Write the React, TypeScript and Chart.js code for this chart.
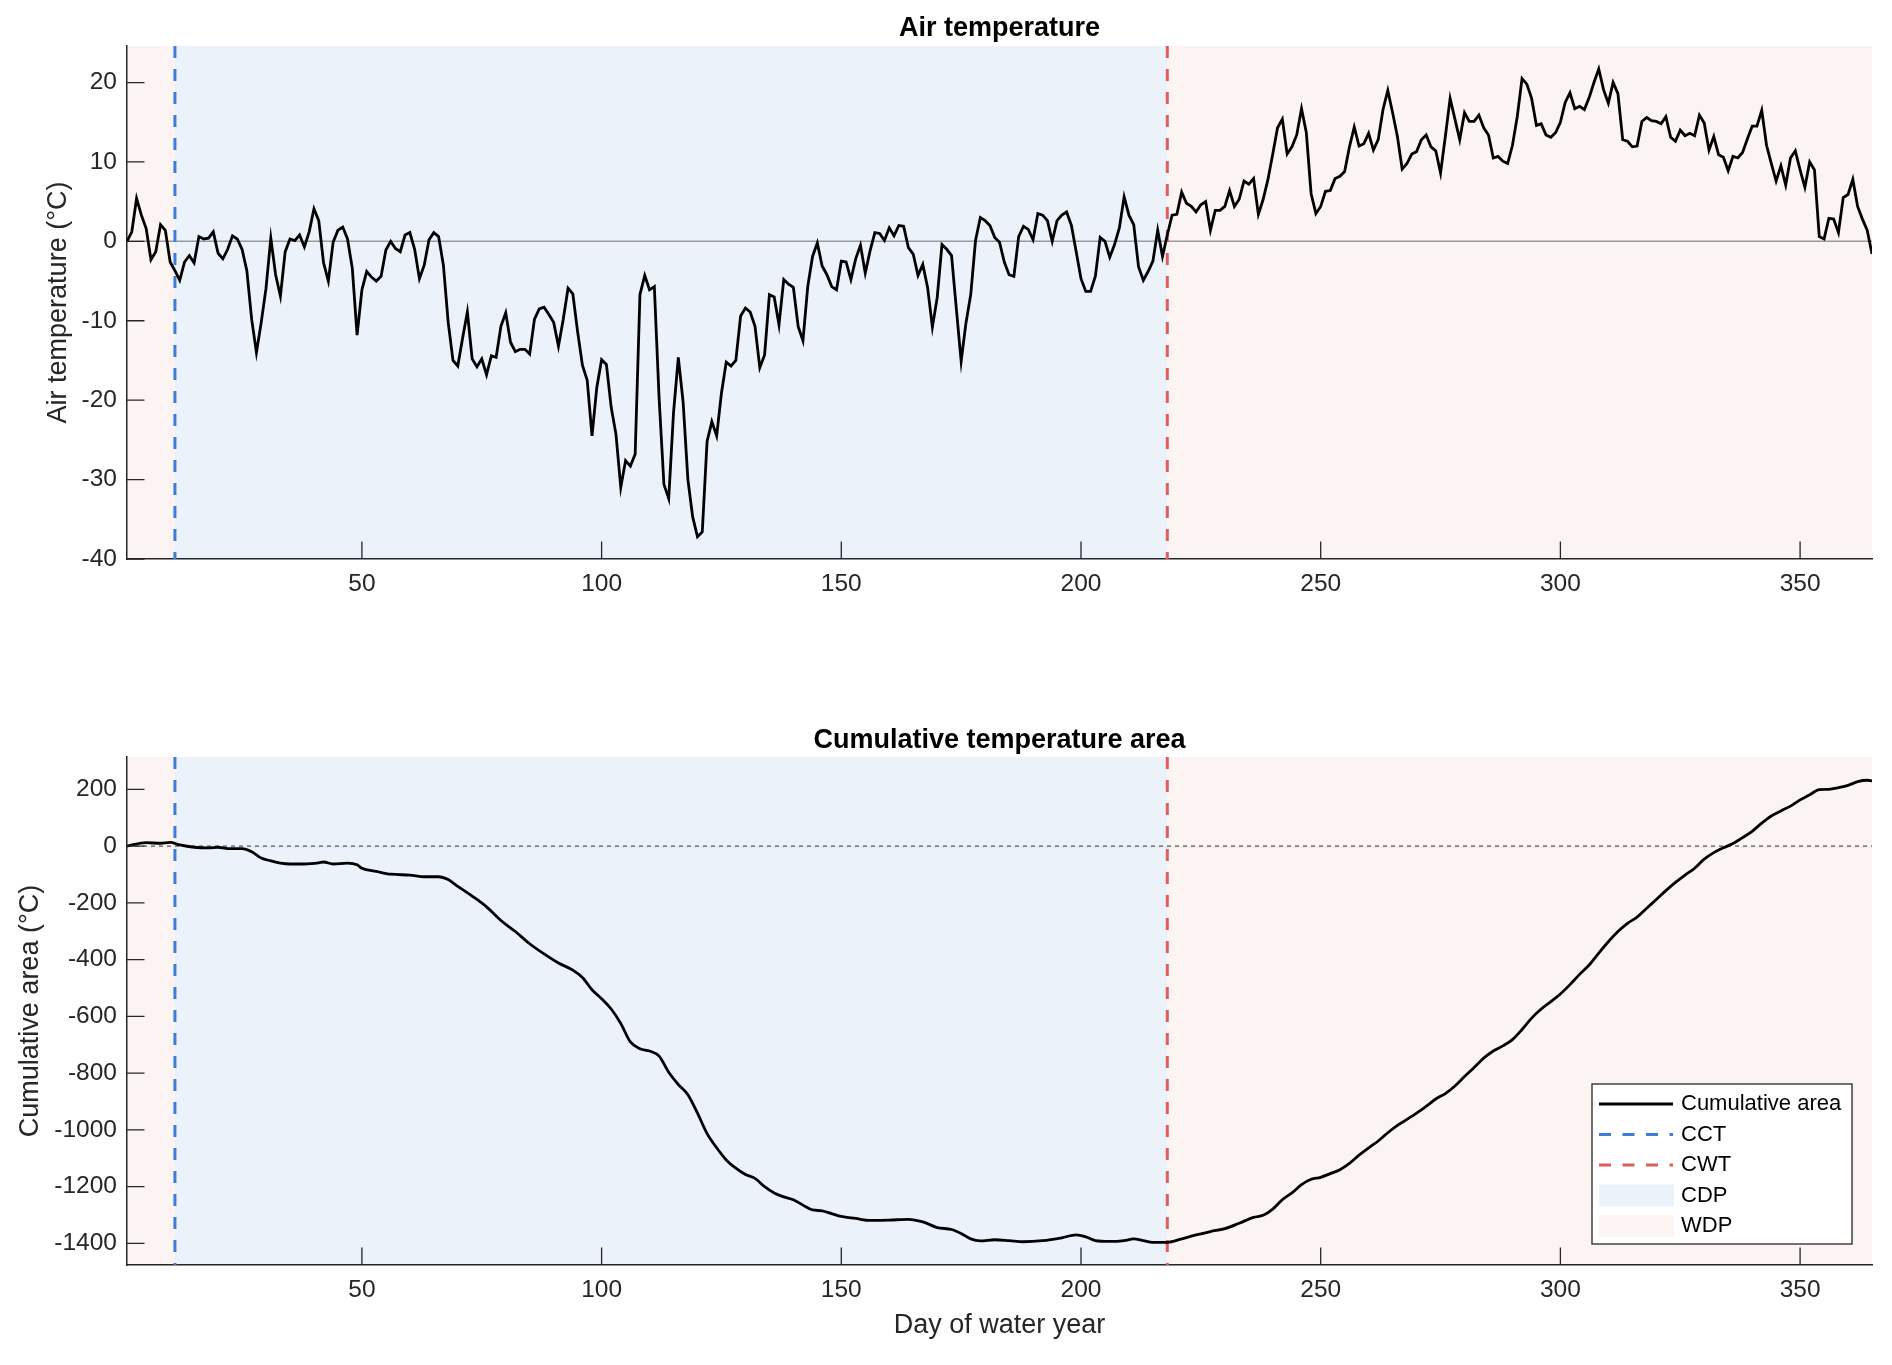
import { useEffect, useRef } from "react";
import { Chart, registerables } from "chart.js";

Chart.register(...registerables);

Chart.defaults.font.family = '"Liberation Sans", Arial, Helvetica, sans-serif';
Chart.defaults.color = "#262626";

// day range and the two threshold days
const firstDay = 1;
const lastDay = 365;
const cctDay = 11;
const cwtDay = 218;

const dayTicks = [50, 100, 150, 200, 250, 300, 350];
const tempTicks = [-40, -30, -20, -10, 0, 10, 20];
const areaTicks = [-1400, -1200, -1000, -800, -600, -400, -200, 0, 200];

// daily mean air temperature, day 1..365
const airTemp = [
  0, 1.2, 5.4, 3.3, 1.6, -2.3, -1.3, 2.1, 1.4, -2.6,
  -3.7, -4.9, -2.6, -1.8, -2.7, 0.6, 0.3, 0.4, 1.2, -1.5,
  -2.2, -1.0, 0.7, 0.3, -1.0, -3.7, -9.8, -14.0, -10.2, -5.9,
  0.4, -4.2, -6.9, -1.3, 0.3, 0.1, 0.8, -0.7, 1.2, 4.1,
  2.6, -2.7, -5.0, -0.1, 1.4, 1.8, 0.3, -3.4, -11.8, -6.1,
  -3.8, -4.5, -5.0, -4.4, -1.1, 0.0, -0.9, -1.3, 0.8, 1.1,
  -1.0, -4.7, -3.0, 0.2, 1.1, 0.6, -3.0, -10.2, -15.0, -15.7,
  -12.2, -8.9, -14.8, -15.8, -14.8, -16.8, -14.4, -14.6, -10.7, -9.0,
  -12.7, -13.9, -13.6, -13.6, -14.2, -9.8, -8.5, -8.3, -9.2, -10.2,
  -13.2, -9.8, -5.9, -6.6, -11.4, -15.6, -17.5, -24.5, -18.4, -14.9,
  -15.5, -20.9, -24.3, -31.0, -27.6, -28.3, -26.8, -6.7, -4.3, -6.1,
  -5.7, -19.8, -30.6, -32.4, -21.6, -14.6, -20.2, -30.0, -34.7, -37.2,
  -36.6, -25.2, -22.7, -24.5, -19.1, -15.2, -15.7, -15.0, -9.4, -8.4,
  -8.9, -10.7, -15.9, -14.3, -6.7, -7.0, -10.5, -4.8, -5.4, -5.8,
  -10.7, -12.5, -5.7, -1.9, -0.2, -3.1, -4.2, -5.7, -6.1, -2.5,
  -2.6, -4.8, -2.2, -0.5, -4.0, -1.2, 1.1, 1.0, 0.1, 1.7,
  0.7, 2.0, 1.9, -0.8, -1.6, -4.3, -2.9, -5.8, -10.8, -7.1,
  -0.4, -1.0, -1.8, -8.5, -15.1, -10.3, -6.7, 0.1, 3.0, 2.6,
  2.0, 0.5, -0.1, -2.6, -4.2, -4.4, 0.6, 1.9, 1.5, 0.2,
  3.5, 3.3, 2.6, 0.0, 2.6, 3.3, 3.7, 2.0, -1.3, -4.7,
  -6.3, -6.3, -4.4, 0.5, 0.0, -2.0, -0.4, 1.7, 5.6, 3.3,
  2.1, -3.2, -4.9, -3.8, -2.5, 1.4, -1.9, 0.8, 3.3, 3.4,
  6.2, 4.8, 4.4, 3.7, 4.6, 5.0, 1.4, 3.9, 3.9, 4.4,
  6.4, 4.4, 5.3, 7.6, 7.2, 7.9, 3.4, 5.3, 7.8, 11.0,
  14.3, 15.4, 11.0, 11.9, 13.4, 16.7, 13.7, 6.0, 3.5, 4.4,
  6.3, 6.4, 7.9, 8.2, 8.8, 11.9, 14.4, 12.0, 12.3, 13.6,
  11.5, 12.8, 16.6, 19.0, 16.2, 13.2, 9.1, 9.8, 11.0, 11.3,
  12.8, 13.4, 11.9, 11.4, 8.6, 13.2, 18.0, 15.4, 12.8, 16.2,
  15.1, 15.1, 15.9, 14.3, 13.4, 10.5, 10.7, 10.1, 9.8, 12.1,
  15.7, 20.5, 19.8, 18.0, 14.6, 14.8, 13.4, 13.1, 13.7, 15.0,
  17.5, 18.7, 16.7, 17.0, 16.6, 18.1, 20.0, 21.7, 19.1, 17.4,
  20.0, 18.6, 12.8, 12.6, 11.9, 12.0, 15.1, 15.6, 15.2, 15.1,
  14.8, 15.7, 13.1, 12.6, 14.0, 13.3, 13.6, 13.3, 15.9, 14.9,
  11.5, 13.2, 10.9, 10.6, 8.9, 10.7, 10.5, 11.2, 12.9, 14.5,
  14.5, 16.5, 12.1, 9.8, 7.6, 9.5, 7.1, 10.5, 11.4, 9.0,
  6.8, 10.0, 9.0, 0.6, 0.3, 2.9, 2.8, 1.1, 5.5, 5.9,
  7.8, 4.4, 2.8, 1.4, -1.6,
];

// cumulative temperature area, read at these days
const areaDays = [
  1, 5, 8, 10, 12, 15, 18, 20, 22, 25, 27, 29, 31, 33, 35, 38, 41, 42, 44, 47,
  49, 50, 53, 56, 60, 63, 66, 68, 70, 73, 76, 79, 82, 85, 88, 91, 94, 96, 98, 100,
  102, 104, 106, 108, 110, 112, 114, 116, 118, 120, 122, 124, 126, 128, 130, 132, 134, 136, 138, 140,
  142, 144, 146, 148, 150, 153, 156, 160, 164, 167, 170, 173, 175, 177, 179, 182, 185, 188, 192, 196,
  199, 201, 203, 206, 209, 211, 213, 215, 218, 221, 224, 227, 230, 233, 236, 238, 240, 242, 244, 246,
  248, 250, 252, 254, 256, 258, 260, 262, 264, 266, 268, 270, 272, 274, 276, 278, 280, 282, 284, 286,
  288, 290, 292, 294, 296, 298, 300, 302, 304, 306, 308, 310, 312, 314, 316, 318, 320, 322, 324, 326,
  328, 330, 332, 334, 336, 338, 340, 342, 344, 346, 348, 350, 352, 354, 356, 358, 360, 362, 364, 365,
];
const areaValues = [
  0, 12, 10, 13, 4, -4, -6, -4, -9, -9, -20, -42, -52, -60, -63, -63, -59, -56, -63, -60,
  -66, -78, -89, -99, -102, -108, -108, -118, -142, -176, -214, -262, -301, -344, -380, -412, -437, -463, -506, -538,
  -574, -625, -690, -714, -722, -740, -797, -840, -876, -941, -1013, -1063, -1106, -1135, -1157, -1171, -1200, -1222, -1236, -1246,
  -1265, -1282, -1285, -1295, -1305, -1312, -1319, -1318, -1315, -1324, -1344, -1351, -1365, -1384, -1391, -1387, -1390, -1394, -1390, -1380,
  -1370, -1377, -1390, -1393, -1390, -1384, -1390, -1396, -1396, -1384, -1370, -1358, -1348, -1329, -1308, -1301, -1279, -1246, -1222, -1193,
  -1174, -1167, -1154, -1140, -1118, -1089, -1063, -1039, -1010, -984, -963, -941, -917, -891, -872, -845, -812, -780, -747, -722,
  -704, -682, -646, -606, -574, -548, -521, -488, -452, -419, -377, -337, -301, -272, -250, -219, -188, -157, -128, -102,
  -78, -46, -23, -6, 9, 30, 52, 81, 106, 124, 141, 163, 181, 199, 200, 206, 214, 227, 232, 230,
];

const legendLabels = ["Cumulative area", "CCT", "CWT", "CDP", "WDP"];

const CDP_FILL = "#EBF2FA";
const WDP_FILL = "#FCF3F3";
const CCT_COLOR = "#3D7ED8";
const CWT_COLOR = "#E05C5E";
const AXIS_COLOR = "#262626";

// shaded periods, drawn before the axes so the axis lines stay on top
const periodShading = {
  id: "periodShading",
  beforeDraw(chart: any) {
    const { ctx, chartArea: a, scales } = chart;
    const x = scales.x;
    const band = (from: number, to: number, color: string) => {
      const x0 = x.getPixelForValue(from);
      const x1 = x.getPixelForValue(to);
      ctx.fillStyle = color;
      ctx.fillRect(x0, a.top, x1 - x0, a.bottom - a.top);
    };
    ctx.save();
    band(firstDay, cctDay, WDP_FILL);
    band(cctDay, cwtDay, CDP_FILL);
    band(cwtDay, lastDay, WDP_FILL);
    ctx.restore();
  },
  beforeDatasetsDraw(chart: any, _args: any, opts: any) {
    const { ctx, chartArea: a, scales } = chart;
    const { x, y } = scales;
    ctx.save();
    // zero line
    const y0 = y.getPixelForValue(0);
    ctx.strokeStyle = opts.zeroColor;
    ctx.lineWidth = 1.5;
    ctx.setLineDash(opts.zeroDash);
    ctx.beginPath();
    ctx.moveTo(a.left, y0);
    ctx.lineTo(a.right, y0);
    ctx.stroke();
    // threshold days
    ctx.lineWidth = 3;
    ctx.setLineDash([12, 11]);
    [[cctDay, CCT_COLOR], [cwtDay, CWT_COLOR]].forEach(([d, c]) => {
      const px = x.getPixelForValue(d as number);
      ctx.strokeStyle = c;
      ctx.beginPath();
      ctx.moveTo(px, a.top);
      ctx.lineTo(px, a.bottom);
      ctx.stroke();
    });
    ctx.restore();
  },
  afterDraw(chart: any) {
    // MATLAB style inward ticks
    const { ctx, chartArea: a, scales } = chart;
    const { x, y } = scales;
    ctx.save();
    ctx.strokeStyle = AXIS_COLOR;
    ctx.lineWidth = 1.3;
    ctx.beginPath();
    x.ticks.forEach((t: any) => {
      const px = x.getPixelForValue(t.value);
      ctx.moveTo(px, a.bottom);
      ctx.lineTo(px, a.bottom - 17.5);
    });
    y.ticks.forEach((t: any) => {
      const py = y.getPixelForValue(t.value);
      ctx.moveTo(a.left, py);
      ctx.lineTo(a.left + 17.5, py);
    });
    ctx.stroke();
    ctx.restore();
  },
};

const areaLegend = {
  id: "areaLegend",
  afterDraw(chart: any) {
    const { ctx, chartArea: a } = chart;
    const w = 260;
    const h = 160;
    const left = a.right - 20 - w;
    const top = a.bottom - 21 - h;
    ctx.save();
    ctx.fillStyle = "#ffffff";
    ctx.fillRect(left, top, w, h);
    ctx.strokeStyle = AXIS_COLOR;
    ctx.lineWidth = 1.3;
    ctx.strokeRect(left, top, w, h);
    ctx.font = '22px "Liberation Sans", Arial, sans-serif';
    ctx.textBaseline = "middle";
    ctx.textAlign = "left";
    const sx = left + 7;
    legendLabels.forEach((label, i) => {
      const ry = top + 20 + i * 30.5;
      if (i < 3) {
        ctx.strokeStyle = i === 0 ? "#000000" : i === 1 ? CCT_COLOR : CWT_COLOR;
        ctx.lineWidth = i === 0 ? 2.8 : 3;
        ctx.setLineDash(i === 0 ? [] : [12, 11.5]);
        ctx.beginPath();
        ctx.moveTo(sx, ry);
        ctx.lineTo(sx + 74, ry);
        ctx.stroke();
        ctx.setLineDash([]);
      } else {
        ctx.fillStyle = i === 3 ? CDP_FILL : WDP_FILL;
        ctx.fillRect(sx, ry - 11, 75, 22);
      }
      ctx.fillStyle = "#000000";
      ctx.fillText(label, left + 89, ry);
    });
    ctx.restore();
  },
};

function axisOptions(ticks: number[], min: number, max: number, title: string | null, kind: "x" | "y", fitSize: number, titlePad: any) {
  return {
    type: "linear" as const,
    min,
    max,
    afterBuildTicks: (scale: any) => {
      scale.ticks = ticks.map((v) => ({ value: v }));
    },
    afterFit: (scale: any) => {
      if (kind === "x") scale.height = fitSize;
      else scale.width = fitSize;
    },
    grid: { display: false, drawTicks: false },
    border: { display: true, color: AXIS_COLOR, width: 1.5 },
    ticks: {
      padding: kind === "x" ? 11 : 10,
      font: { size: 24.5 },
      color: AXIS_COLOR,
      autoSkip: false,
      maxRotation: 0,
      callback: (v: number | string) => String(v),
    },
    title: {
      display: title !== null,
      text: title ?? "",
      font: { size: 27 },
      color: AXIS_COLOR,
      padding: titlePad,
    },
  };
}

export default function App() {
  const topRef = useRef<HTMLCanvasElement>(null);
  const bottomRef = useRef<HTMLCanvasElement>(null);

  useEffect(() => {
    if (!topRef.current || !bottomRef.current) return;

    const tempChart = new Chart(topRef.current, {
      type: "line",
      data: {
        datasets: [
          {
            label: "Air temperature",
            data: airTemp.map((t, i) => ({ x: firstDay + i, y: t })),
            borderColor: "#000000",
            borderWidth: 2.8,
            pointRadius: 0,
            tension: 0,
            fill: false,
          },
        ],
      },
      options: {
        responsive: true,
        maintainAspectRatio: false,
        animation: false,
        layout: { padding: { left: 0, right: 20, top: 0, bottom: 0 } },
        plugins: {
          legend: { display: false },
          tooltip: { enabled: false },
          title: {
            display: true,
            text: "Air temperature",
            fullSize: false,
            color: "#000000",
            font: { size: 27, weight: "bold" },
            padding: { top: 12.8, bottom: 0.8 },
          },
          periodShading: { zeroColor: "#9b9b9b", zeroDash: [] },
        } as any,
        scales: {
          x: axisOptions(dayTicks, firstDay, lastDay, null, "x", 81, 0),
          y: axisOptions(tempTicks, -40, 24.6, "Air temperature (°C)", "y", 127, { top: 42.8, bottom: 0 }),
        },
      },
      plugins: [periodShading],
    });

    const areaChart = new Chart(bottomRef.current, {
      type: "line",
      data: {
        datasets: [
          {
            label: legendLabels[0],
            data: areaDays.map((d, i) => ({ x: d, y: areaValues[i] })),
            borderColor: "#000000",
            borderWidth: 2.8,
            pointRadius: 0,
            cubicInterpolationMode: "monotone",
            fill: false,
          },
        ],
      },
      options: {
        responsive: true,
        maintainAspectRatio: false,
        animation: false,
        layout: { padding: { left: 0, right: 20, top: 0, bottom: 0 } },
        plugins: {
          legend: { display: false },
          tooltip: { enabled: false },
          title: {
            display: true,
            text: "Cumulative temperature area",
            fullSize: false,
            color: "#000000",
            font: { size: 27, weight: "bold" },
            padding: { top: 24.2, bottom: 0.4 },
          },
          periodShading: { zeroColor: "#6e6e6e", zeroDash: [4, 4] },
        } as any,
        scales: {
          x: axisOptions(dayTicks, firstDay, lastDay, "Day of water year", "x", 100, { top: 0, bottom: 22.8 }),
          y: axisOptions(areaTicks, -1476, 314, "Cumulative area (°C)", "y", 127, { top: 14, bottom: 0 }),
        },
      },
      plugins: [periodShading, areaLegend],
    });

    return () => {
      tempChart.destroy();
      areaChart.destroy();
    };
  }, []);

  return (
    <div style={{ position: "absolute", left: 0, top: 0, width: 1892, height: 1365, background: "#ffffff" }}>
      <div style={{ position: "absolute", left: 0, top: 0, width: 1892, height: 640 }}>
        <canvas ref={topRef} />
      </div>
      <div style={{ position: "absolute", left: 0, top: 700, width: 1892, height: 665 }}>
        <canvas ref={bottomRef} />
      </div>
    </div>
  );
}
